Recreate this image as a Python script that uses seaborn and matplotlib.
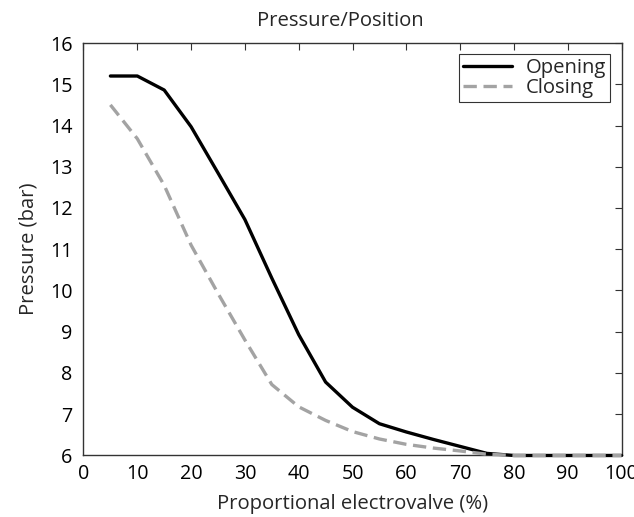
import matplotlib
matplotlib.use("Agg")
import matplotlib.pyplot as plt
import seaborn as sns
import pandas as pd
from matplotlib.lines import Line2D

valve = [5, 10, 15, 20, 25, 30, 35, 40, 45, 50, 55, 60, 65, 70, 75, 80, 85, 90, 95, 100]
opening = [15.2, 15.2, 14.86, 13.97, 12.85, 11.72, 10.3, 8.93, 7.78, 7.17, 6.77, 6.57, 6.39, 6.22, 6.05, 6.0, 6.0, 6.0, 6.0, 6.0]
closing = [14.5, 13.68, 12.55, 11.1, 9.93, 8.8, 7.72, 7.18, 6.85, 6.58, 6.4, 6.27, 6.18, 6.11, 6.03, 6.0, 6.0, 6.0, 6.0, 6.0]
series_names = ["Opening", "Closing"]
x_ticks = [0, 10, 20, 30, 40, 50, 60, 70, 80, 90, 100]
y_ticks = [6, 7, 8, 9, 10, 11, 12, 13, 14, 15, 16]

sns.set_theme(style="white")
plt.rcParams["font.family"] = ["Open Sans", "DejaVu Sans"]

df = pd.DataFrame({
    "valve": valve * 2,
    "pressure": opening + closing,
    "series": [series_names[0]] * len(valve) + [series_names[1]] * len(valve),
})

fig = plt.figure(figsize=(6.34, 5.17), dpi=100)
ax = fig.add_axes([0.1317, 0.119, 0.8486, 0.7978])

sns.lineplot(data=df, x="valve", y="pressure", hue="series", style="series",
             palette={"Opening": "black", "Closing": "#a3a3a3"},
             dashes={"Opening": "", "Closing": (4, 2)},
             linewidth=2.4, ax=ax, legend=False)
for ln in ax.get_lines():
    ln.set_clip_on(False)
    ln.set_zorder(3)

fs = 14.6
ax.set_xlim(0, 100)
ax.set_ylim(6, 16)
ax.set_xticks(x_ticks)
ax.set_yticks(y_ticks)
ax.tick_params(direction="in", top=True, right=True, length=5, width=0.8,
               color="#333333", labelsize=fs - 0.4, labelcolor="black")
ax.tick_params(axis="x", pad=6)
ax.tick_params(axis="y", pad=8)
for s in ax.spines.values():
    s.set_color("#333333")
    s.set_linewidth(1.0)

ax.set_title("Pressure/Position", fontsize=fs, pad=12, x=0.477)
ax.set_xlabel("Proportional electrovalve (%)", fontsize=fs, labelpad=7)
ax.set_ylabel("Pressure (bar)", fontsize=fs, labelpad=8)

handles = [Line2D([], [], color="black", lw=2.4),
           Line2D([], [], color="#a3a3a3", lw=2.4, ls=(0, (4, 2)))]
leg = ax.legend(handles, series_names, loc="upper right", fontsize=fs,
                frameon=True, fancybox=False, edgecolor="black",
                handlelength=2.4, borderpad=0.2, labelspacing=0.0,
                handletextpad=0.7, borderaxespad=0.55)
leg.get_frame().set_linewidth(0.8)
leg.set_zorder(5)

fig.savefig("out.png", dpi=100)
